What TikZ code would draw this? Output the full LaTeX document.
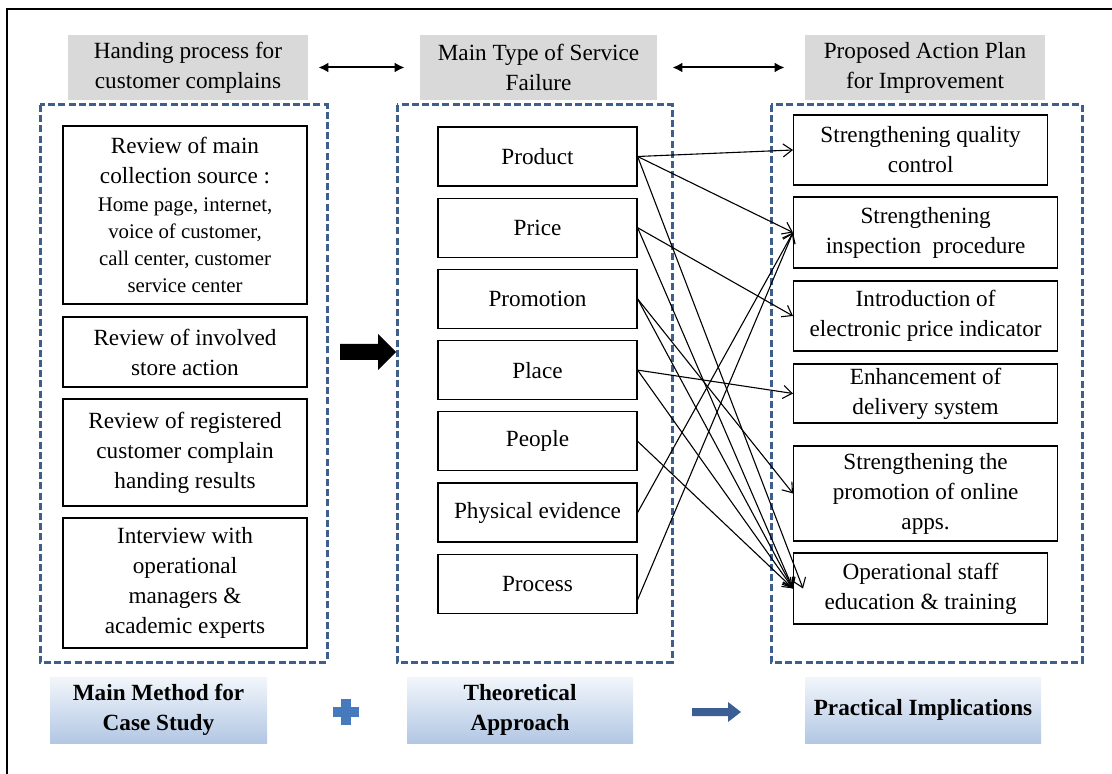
\documentclass[tikz,border=0pt]{standalone}
\usepackage{fontspec}
\setmainfont{Liberation Serif}
\usetikzlibrary{calc}
\usetikzlibrary{arrows,arrows.meta}

\definecolor{hdrgray}{RGB}{217,217,217}
\definecolor{frameblue}{RGB}{62,94,140}
\definecolor{botlight}{RGB}{242,246,251}
\definecolor{botdark}{RGB}{178,199,228}
\definecolor{arrblue}{RGB}{59,94,148}
\definecolor{plusblue}{RGB}{70,122,188}

\tikzset{
 hdr/.style={fill=hdrgray, minimum width=120pt, minimum height=32.5pt, align=center, inner sep=1pt, font=\fontsize{11.6}{15}\selectfont},
 ibox/.style={draw, line width=0.6pt, align=center, inner sep=1pt, font=\fontsize{11.6}{15}\selectfont},
 ptype/.style={ibox, minimum width=99.5pt, minimum height=29.5pt},
 actbox/.style={ibox, anchor=west, minimum width=132pt, minimum height=35pt},
 dashframe/.style={frameblue, line width=1.5pt, dash pattern=on 3.5pt off 1.6pt},
 link/.style={line width=0.55pt, -{Straight Barb[length=4.5pt,width=6.5pt]}},
 twoway/.style={line width=1pt, {Latex[length=5pt,width=5pt]}-{Latex[length=5pt,width=5pt]}},
 sumbox/.style={top color=botlight, bottom color=botdark, minimum height=33pt, align=center, inner sep=1pt, font=\fontsize{11.6}{15}\selectfont\bfseries},
}
\newcommand{\smalltxt}{\fontsize{10.4}{13.5}\selectfont}

\begin{document}
\begin{tikzpicture}[x=0.5pt, y=-0.5pt]
\useasboundingbox (0,0) rectangle (1112,774);
\draw[line width=1pt] (7,774) -- (7,9) -- (1112,9);

% column titles
\node[hdr] (hproc) at (188,67.5) {Handing process for\\customer complains};
\node[hdr, minimum width=118.5pt] (htype) at (538.5,67.5) {Main Type of Service\\Failure};
\node[hdr] (hplan) at (925,67.5) {Proposed Action Plan\\for Improvement};
\draw[twoway] ([xshift=5pt]hproc.east) -- ([xshift=-7.5pt]htype.west);
\draw[twoway] ([xshift=7.5pt]htype.east) -- ([xshift=-10pt]hplan.west);

\draw[dashframe] (40,105) rectangle (327,662);
\draw[dashframe] (397,105) rectangle (672,662);
\draw[dashframe] (771,105) rectangle (1082,662);

% case study
\node[ibox, minimum width=122pt, minimum height=89pt] (source) at (185,215)
 {Review of main\\collection source :\\[-1pt]{\smalltxt Home page, internet,}\\[-1.5pt]{\smalltxt voice of customer,}\\[-1.5pt]{\smalltxt call center, customer}\\[-1.5pt]{\smalltxt service center}};
\node[ibox, minimum width=122pt, minimum height=35pt] (store) at (185,352) {Review of involved\\store action};
\node[ibox, minimum width=122pt, minimum height=53.5pt] (registered) at (185,452.5) {Review of registered\\customer complain\\handing results};
\node[ibox, minimum width=122pt, minimum height=65pt] (interview) at (185,583) {Interview with\\operational\\managers \&\\academic experts};

\fill (340,344) -- (378,344) -- (378,334) -- (396,352) -- (378,370) -- (378,360) -- (340,360) -- cycle;

% service failure types
\foreach \nm/\txt [count=\i] in {product/Product, price/Price, promo/Promotion, place/Place, people/People, physical/Physical evidence, process/Process}
 \node[ptype] (\nm) at (537.5,{156.5+71.2*(\i-1)}) {\txt};

% action plan
\node[actbox, minimum width=127pt] (quality) at (793,150) {Strengthening quality\\control};
\node[actbox, minimum height=35.5pt] (inspect) at (793,232.5) {Strengthening\\inspection\ \ procedure};
\node[actbox] (elec) at (793,316) {Introduction of\\electronic price indicator};
\node[actbox, minimum height=29.5pt] (delivery) at (793,393.5) {Enhancement of\\delivery system};
\node[actbox, minimum height=47.5pt] (online) at (793,493.5) {Strengthening the\\promotion of online\\apps.};
\node[actbox, minimum width=127pt, minimum height=35.5pt] (staff) at (793,588.5) {Operational staff\\education \& training};

\draw[link] (product.east) -- (quality.west);
\draw[link] (product.east) -- (inspect.west);
\draw[link] (product.east) -- ([xshift=5pt]staff.west);
\draw[link] (price.east) -- (elec.west);
\draw[link] (price.east) -- (staff.west);
\draw[link] (promo.east) -- (online.west);
\draw[link] (promo.east) -- (staff.west);
\draw[link] (place.east) -- (delivery.west);
\draw[link] (place.east) -- (staff.west);
\draw[link] (people.east) -- (staff.west);
\draw[link] (physical.east) -- (inspect.west);
\draw[link] ([yshift=-8pt]process.east) -- (inspect.west);

% summary row
\node[sumbox, minimum width=108.5pt] (method) at (158.5,710) {Main Method for\\Case Study};
\node[sumbox, minimum width=113pt] (theory) at (520,710) {Theoretical\\Approach};
\node[sumbox, minimum width=118pt] (practice) at (923,710) {Practical Implications};
\fill[plusblue] (333,707) rectangle (359,717);
\fill[plusblue] (341,699) rectangle (351,725);
\fill[arrblue] (692,708) -- (728,708) -- (728,702) -- (741,712) -- (728,722) -- (728,716) -- (692,716) -- cycle;
\end{tikzpicture}
\end{document}
